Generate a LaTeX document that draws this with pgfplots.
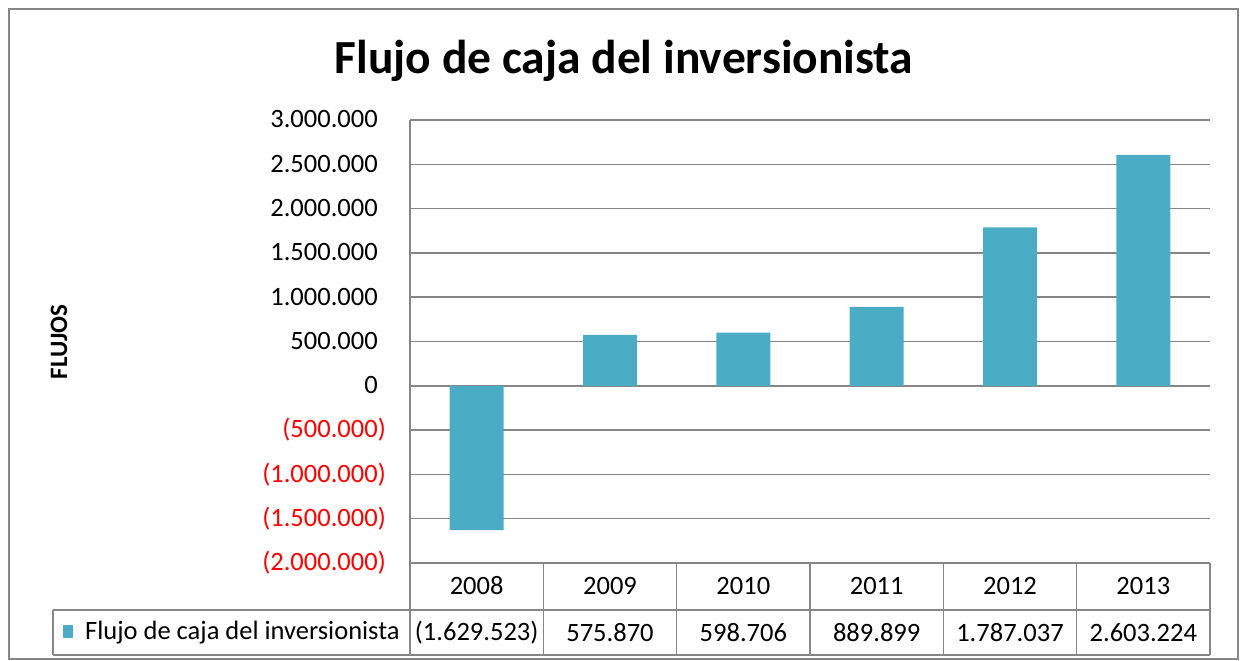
\documentclass[border=0pt]{standalone}
\usepackage{pgfplots}
\pgfplotsset{compat=1.18}
\usepackage{fontspec}
\setmainfont{Carlito}
\definecolor{barc}{RGB}{75,172,198}
\definecolor{gridc}{RGB}{134,134,134}
\begin{document}
\begin{tikzpicture}[x=1bp,y=1bp]
\useasboundingbox (0,0) rectangle (1241,661);
\draw[gridc, line width=1.5bp] (9,2) rectangle (1238,652);
\node[anchor=base, font=\fontsize{47.5bp}{52bp}\selectfont\bfseries] at (624,587) {Flujo de caja del inversionista};
\node[rotate=90, anchor=base, font=\fontsize{25bp}{28bp}\selectfont\bfseries] at (67,319) {FLUJOS};
\begin{axis}[at={(410bp,98bp)}, anchor=south west, width=800bp, height=443bp, scale only axis,
  xmin=-0.5, xmax=5.5, ymin=-2000000, ymax=3000000,
  scaled y ticks=false,
  axis line style={draw=none},
  ytick={-2000000,-1500000,-1000000,-500000,0,500000,1000000,1500000,2000000,2500000,3000000},
  yticklabels={\textcolor{red}{(2.000.000)},\textcolor{red}{(1.500.000)},\textcolor{red}{(1.000.000)},\textcolor{red}{(500.000)},0\phantom{)},500.000\phantom{)},1.000.000\phantom{)},1.500.000\phantom{)},2.000.000\phantom{)},2.500.000\phantom{)},3.000.000\phantom{)}},
  xtick={0,1,2,3,4,5},
  xticklabels={2008,2009,2010,2011,2012,2013},
  tick style={draw=none}, major tick length=0pt,
  yticklabel style={anchor=east, inner sep=0pt, xshift=-24bp, font=\fontsize{26.5bp}{30bp}\selectfont},
  xticklabel style={anchor=center, inner sep=0pt, yshift=-23bp, font=\fontsize{26.5bp}{30bp}\selectfont},
  ymajorgrids, major grid style={gridc, line width=1.5bp},
  clip=false]
\addplot[ybar, bar width=54bp, fill=barc, draw=none] coordinates {(0,-1629523) (1,575870) (2,598706) (3,889899) (4,1787037) (5,2603224)};
\end{axis}
\draw[gridc, line width=1.5bp] (410,98) -- (1210,98);
\draw[gridc, line width=1.5bp] (53,51) -- (1210,51);
\draw[gridc, line width=1.5bp] (53,6) -- (1210,6);
\draw[gridc, line width=1.5bp] (53,51) -- (53,6);
\foreach \k in {1,...,6} {\draw[gridc, line width=1.5bp] ({410+\k*133.333},98) -- ({410+\k*133.333},6);}
\draw[gridc, line width=2.5bp] (410,541) -- (410,6);
\fill[barc] (63,23) rectangle (73,36);
\node[anchor=west, inner sep=0pt, font=\fontsize{26.5bp}{30bp}\selectfont] at (85,28.5) {Flujo de caja del inversionista};
\foreach \v [count=\k from 0] in {(1.629.523),575.870,598.706,889.899,1.787.037,2.603.224}
  {\node[anchor=center, inner sep=0pt, font=\fontsize{26.5bp}{30bp}\selectfont] at ({476.667+\k*133.333},28.5) {\v};}
\end{tikzpicture}
\end{document}
